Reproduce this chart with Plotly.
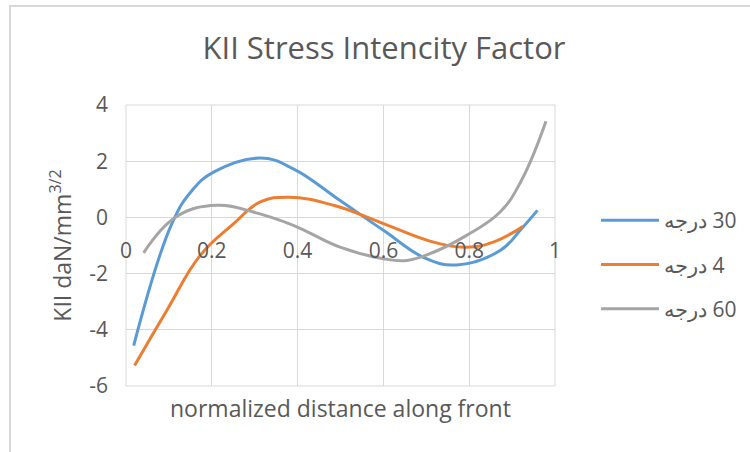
import plotly.graph_objects as go

# ---- data ----
x_30 = [0.018, 0.107, 0.154, 0.204, 0.313, 0.39, 0.499, 0.60, 0.70, 0.771, 0.872, 0.922, 0.959]
y_30 = [-4.56, -0.22, 0.96, 1.61, 2.11, 1.73, 0.60, -0.46, -1.47, -1.69, -1.18, -0.40, 0.25]

x_4 = [0.02, 0.095, 0.173, 0.251, 0.313, 0.379, 0.484, 0.60, 0.717, 0.794, 0.856, 0.925]
y_4 = [-5.27, -3.31, -1.35, -0.22, 0.55, 0.72, 0.43, -0.22, -0.88, -1.06, -0.88, -0.32]

x_60 = [0.041, 0.119, 0.212, 0.297, 0.39, 0.499, 0.60, 0.655, 0.717, 0.794, 0.872, 0.922, 0.979]
y_60 = [-1.26, 0.04, 0.43, 0.19, -0.28, -1.06, -1.47, -1.53, -1.24, -0.64, 0.19, 1.32, 3.42]

# LRM keeps the number to the right of the Arabic word, as in the reference
series_names = ["درجه\u200e 30", "درجه\u200e 4", "درجه\u200e 60"]
series_colors = ["#5B9BD5", "#ED7D31", "#A5A5A5"]

x_ticks = [0, 0.2, 0.4, 0.6, 0.8, 1]
x_tick_labels = ["0", "0.2", "0.4", "0.6", "0.8", "1"]
y_ticks = [-6, -4, -2, 0, 2, 4]
y_tick_labels = ["-6", "-4", "-2", "0", "2", "4"]

FONT = "Open Sans"
TXT = "#595959"
GRID = "#D9D9D9"

fig = go.Figure()
for xs, ys, name, col in zip([x_30, x_4, x_60], [y_30, y_4, y_60], series_names, series_colors):
    fig.add_trace(go.Scatter(
        x=xs, y=ys, mode="lines", name=name, legendgroup=name,
        line=dict(color=col, width=3, shape="spline", smoothing=1.2),
    ))

W, H = 750, 452
L, R, T, B = 126, 195, 105, 66
pw, ph = W - L - R, H - T - B

def px2x(px):
    return (px - L) / pw

def py2y(py):
    return (H - B - py) / ph

fig.update_layout(
    width=W, height=H,
    margin=dict(l=L, r=R, t=T, b=B, autoexpand=False),
    paper_bgcolor="white", plot_bgcolor="white",
    font=dict(family=FONT, color=TXT, size=21),
    title=dict(text="KII Stress Intencity Factor", x=px2x(384), xref="paper", xanchor="center",
               y=1 - 48 / H, yanchor="middle", font=dict(family=FONT, size=31, color=TXT)),
    showlegend=True,
    legend=dict(x=px2x(596), y=py2y(200), xanchor="left", yanchor="top",
                font=dict(family=FONT, size=21, color=TXT), tracegroupgap=14,
                itemwidth=58, bgcolor="rgba(0,0,0,0)"),
    xaxis=dict(range=[0, 1], tickvals=x_ticks, ticktext=x_tick_labels, automargin=False,
               showgrid=True, gridcolor=GRID, gridwidth=1, zeroline=False,
               showline=False, ticks="", anchor="free", position=0.6, ticklabelstandoff=19,
               tickfont=dict(family=FONT, size=21, color=TXT)),
    yaxis=dict(range=[-6, 4], tickvals=y_ticks, ticktext=y_tick_labels, automargin=False,
               showgrid=True, gridcolor=GRID, gridwidth=1,
               zeroline=True, zerolinecolor=GRID, zerolinewidth=1, showline=False, ticks="",
               ticklabelstandoff=17,
               title=dict(text="KII daN/mm<sup>3/2</sup>", font=dict(family=FONT, size=23, color=TXT),
                          standoff=11),
               tickfont=dict(family=FONT, size=21, color=TXT)),
)

# x-axis title (the x axis itself crosses at y = 0, as in the reference)
fig.add_annotation(text="normalized distance along front", xref="paper", yref="paper",
                   x=0.5, y=py2y(408), xanchor="center", yanchor="middle", showarrow=False,
                   font=dict(family=FONT, size=23, color=TXT))

# plot-area frame lines
fig.add_shape(type="rect", xref="paper", yref="paper", x0=0, x1=1, y0=0, y1=1,
              line=dict(color=GRID, width=1), layer="below")

# chart outer border (visible on left and top; right/bottom edges fall outside the page)
fig.add_shape(type="rect", xref="paper", yref="paper", x0=px2x(10), x1=px2x(770),
              y0=py2y(470), y1=py2y(6), line=dict(color="#D9D9D9", width=2),
              fillcolor="rgba(0,0,0,0)", layer="above")

post = """
document.body.style.margin='0px';
var b=document.createElement('div');
b.style.position='absolute';b.style.left='9px';b.style.top='5px';
b.style.width='760px';b.style.height='460px';
b.style.borderTop='2px solid #D9D9D9';b.style.borderLeft='2px solid #D9D9D9';
b.style.pointerEvents='none';b.style.zIndex='1000';
document.body.appendChild(b);
document.body.style.overflow='hidden';
"""

fig.write_html("out.html", config={"displayModeBar": False}, post_script=post)
